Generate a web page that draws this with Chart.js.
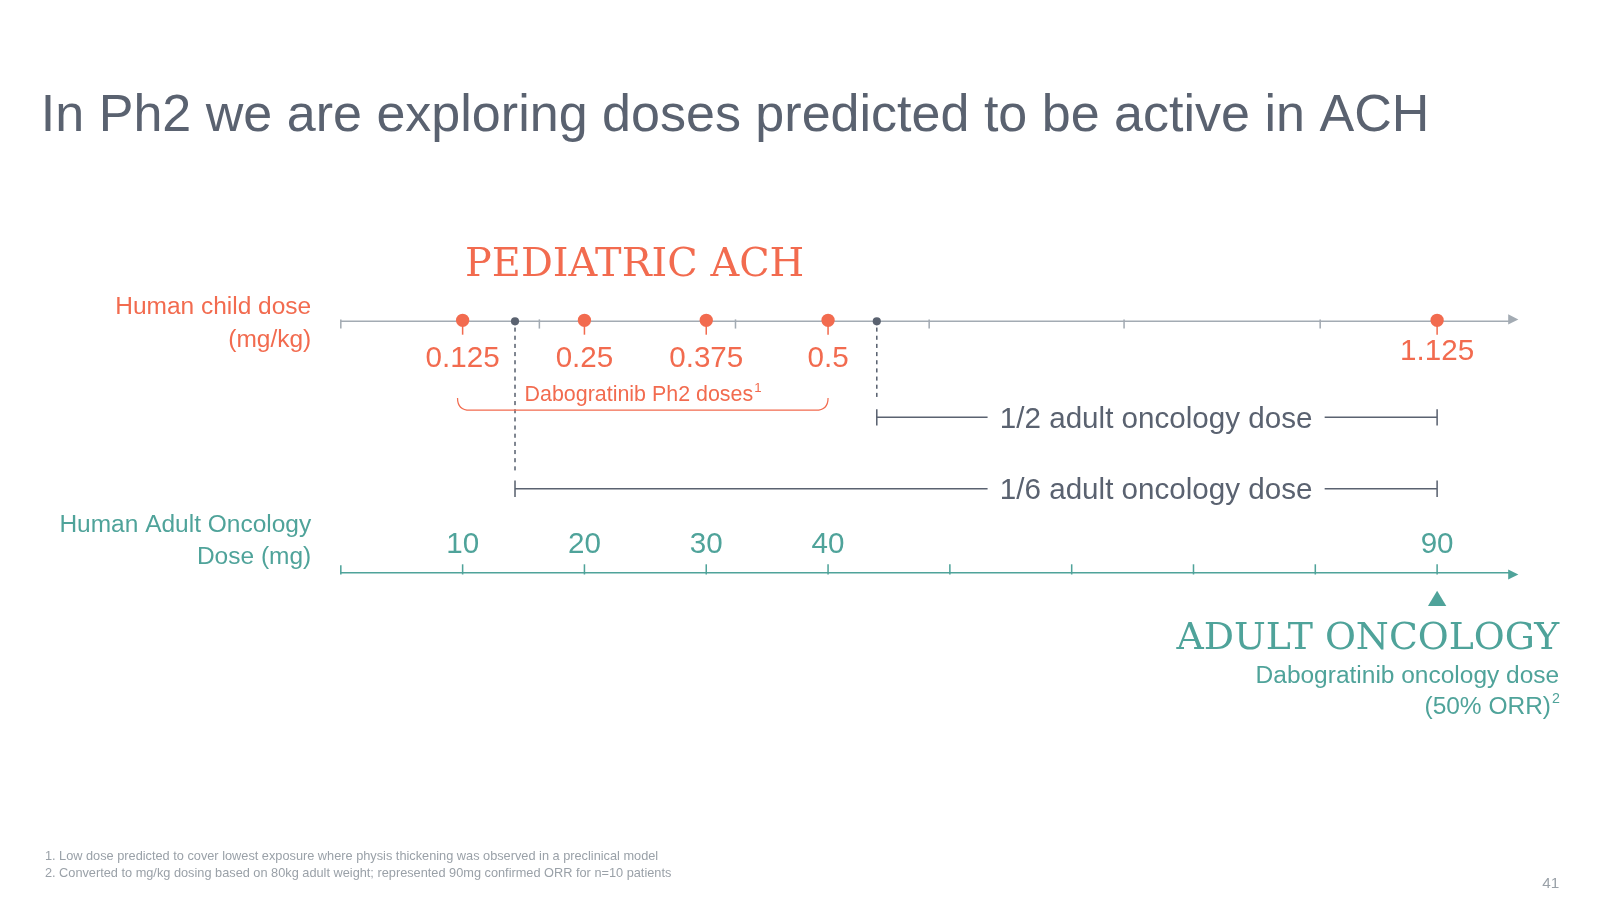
<!DOCTYPE html>
<html>
<head>
<meta charset="utf-8">
<script src="https://cdn.jsdelivr.net/npm/chart.js@4/dist/chart.umd.min.js"></script>
<style>html,body{margin:0;padding:0;background:#fff}</style>
</head>
<body>
<canvas id="c" width="1600" height="900"></canvas>
<script>
// doses: mg/kg child dose and matching adult mg dose
var childDoseLabels = ['0.125', '0.25', '0.375', '0.5', '1.125']
var childDoseMg = [10, 20, 30, 40, 90]
var adultTickLabels = ['10', '20', '30', '40', '90']
var adultTickMg = [10, 20, 30, 40, 90]
var thresholdMg = [14.3, 44]        // 1/6 and 1/2 adult oncology dose markers
var thresholdNames = ['1/6 adult oncology dose', '1/2 adult oncology dose']
var topMinorTicks = [0, 16.3, 32.4, 48.3, 64.3, 80.4]
var bottomMinorTicks = [10, 20, 30, 40, 50, 60, 70, 80, 90]
var axisMax = 96

var S = 1600 / 1568   // reference was read at reduced size
var ORANGE = '#f26b4f', TEAL = '#4fa39a', GREY = '#5a6270', LIGHT = '#a3abb3'
var TOPY = 313, BOTY = 563
var SANS = 'Arial, "Liberation Sans", sans-serif'

var textPlugin = {
    id: 'texts',
    afterDatasetsDraw: function (chart) {
        var ctx = chart.ctx, xs = chart.scales.x
        function px(v) { return xs.getPixelForValue(v) / S }
        function txt(s, x, y, font, color, align) {
            ctx.font = font; ctx.fillStyle = color; ctx.textAlign = align || 'left'
            ctx.textBaseline = 'alphabetic'; ctx.fillText(s, x, y)
        }
        ctx.save()
        ctx.scale(S, S)
        // axis arrows
        ctx.fillStyle = LIGHT
        ctx.beginPath(); ctx.moveTo(px(axisMax) + 8, TOPY); ctx.lineTo(px(axisMax) - 2, TOPY - 5); ctx.lineTo(px(axisMax) - 2, TOPY + 5); ctx.fill()
        ctx.fillStyle = TEAL
        ctx.beginPath(); ctx.moveTo(px(axisMax) + 8, BOTY); ctx.lineTo(px(axisMax) - 2, BOTY - 5); ctx.lineTo(px(axisMax) - 2, BOTY + 5); ctx.fill()
        // minor ticks
        ctx.lineWidth = 1.5
        ctx.strokeStyle = LIGHT
        topMinorTicks.forEach(function (v) { ctx.beginPath(); ctx.moveTo(px(v), TOPY); ctx.lineTo(px(v), TOPY + 9); ctx.stroke() })
        ctx.strokeStyle = TEAL
        ctx.beginPath(); ctx.moveTo(px(0), BOTY); ctx.lineTo(px(0), BOTY - 9); ctx.stroke()
        bottomMinorTicks.forEach(function (v) { ctx.beginPath(); ctx.moveTo(px(v), BOTY); ctx.lineTo(px(v), BOTY - 10); ctx.stroke() })
        ctx.strokeStyle = ORANGE
        childDoseMg.forEach(function (v) { ctx.beginPath(); ctx.moveTo(px(v), TOPY); ctx.lineTo(px(v), TOPY + 15); ctx.stroke() })
        // dashed verticals
        ctx.strokeStyle = GREY; ctx.setLineDash([4, 4])
        ctx.beginPath(); ctx.moveTo(px(thresholdMg[0]), TOPY); ctx.lineTo(px(thresholdMg[0]), 462); ctx.stroke()
        ctx.beginPath(); ctx.moveTo(px(thresholdMg[1]), TOPY); ctx.lineTo(px(thresholdMg[1]), 392); ctx.stroke()
        ctx.setLineDash([])
        // brackets
        var rows = [479, 409]
        ctx.font = '29px ' + SANS
        thresholdMg.forEach(function (v, i) {
            var y = rows[i], x0 = px(v), x1 = px(90), cx = 1133
            var w = ctx.measureText(thresholdNames[i]).width / 2 + 12
            ctx.strokeStyle = GREY; ctx.lineWidth = 1.5
            ctx.beginPath(); ctx.moveTo(x0, y); ctx.lineTo(cx - w, y); ctx.moveTo(cx + w, y); ctx.lineTo(x1, y)
            ctx.moveTo(x0, y - 8); ctx.lineTo(x0, y + 8); ctx.moveTo(x1, y - 8); ctx.lineTo(x1, y + 8); ctx.stroke()
            txt(thresholdNames[i], cx, y + 10, '29px ' + SANS, GREY, 'center')
        })
        // orange curly bracket
        var b0 = px(childDoseMg[0]) - 5, b1 = px(childDoseMg[3]), by = 402
        ctx.strokeStyle = ORANGE; ctx.lineWidth = 1.2
        ctx.beginPath(); ctx.moveTo(b0, by - 12); ctx.quadraticCurveTo(b0, by, b0 + 12, by)
        ctx.lineTo(b1 - 12, by); ctx.quadraticCurveTo(b1, by, b1, by - 12); ctx.stroke()
        txt('Dabogratinib Ph2 doses', 514, 393, '21px ' + SANS, ORANGE, 'left')
        ctx.font = '21px ' + SANS
        txt('1', 514 + ctx.measureText('Dabogratinib Ph2 doses').width + 1, 384, '13px ' + SANS, ORANGE, 'left')
        // dose labels
        childDoseLabels.forEach(function (s, i) {
            txt(s, px(childDoseMg[i]), i === 4 ? 353 : 360, '29px ' + SANS, ORANGE, 'center')
        })
        adultTickLabels.forEach(function (s, i) {
            txt(s, px(adultTickMg[i]), 542, '29px ' + SANS, TEAL, 'center')
        })
        // triangle
        ctx.fillStyle = TEAL
        ctx.beginPath(); ctx.moveTo(px(90), 579); ctx.lineTo(px(90) - 9, 594); ctx.lineTo(px(90) + 9, 594); ctx.fill()
        // titles and labels
        txt('In Ph2 we are exploring doses predicted to be active in ACH', 40, 128, '51px ' + SANS, GREY)
        txt('PEDIATRIC ACH', 622, 270, '39px "DejaVu Serif", serif', ORANGE, 'center')
        txt('Human child dose', 305, 308, '24px ' + SANS, ORANGE, 'right')
        txt('(mg/kg)', 305, 340, '24px ' + SANS, ORANGE, 'right')
        txt('Human Adult Oncology', 305, 521, '24px ' + SANS, TEAL, 'right')
        txt('Dose (mg)', 305, 553, '24px ' + SANS, TEAL, 'right')
        txt('ADULT ONCOLOGY', 1528, 636, '37px "DejaVu Serif", serif', TEAL, 'right')
        txt('Dabogratinib oncology dose', 1528, 669, '24px ' + SANS, TEAL, 'right')
        txt('(50% ORR)', 1520, 700, '24px ' + SANS, TEAL, 'right')
        txt('2', 1521, 689, '14px ' + SANS, TEAL, 'left')
        txt('1. Low dose predicted to cover lowest exposure where physis thickening was observed in a preclinical model', 44, 843, '12.5px ' + SANS, '#9aa1a8')
        txt('2. Converted to mg/kg dosing based on 80kg adult weight; represented 90mg confirmed ORR for n=10 patients', 44, 859, '12.5px ' + SANS, '#9aa1a8')
        txt('41', 1528, 870, '15px ' + SANS, '#9aa1a8', 'right')
        ctx.restore()
    }
}

new Chart(document.getElementById('c').getContext('2d'), {
    type: 'scatter',
    data: {
        datasets: [
            { data: childDoseMg.map(function (v) { return { x: v, y: TOPY - 1 } }), backgroundColor: ORANGE, pointRadius: 6.5 * S, pointBorderWidth: 0 },
            { data: thresholdMg.map(function (v) { return { x: v, y: TOPY } }), backgroundColor: GREY, pointRadius: 4 * S, pointBorderWidth: 0 },
            { data: [{ x: 0, y: TOPY }, { x: axisMax, y: TOPY }], showLine: true, borderColor: LIGHT, borderWidth: 1.5 * S, pointRadius: 0, order: 5 },
            { data: [{ x: 0, y: BOTY }, { x: axisMax, y: BOTY }], showLine: true, borderColor: TEAL, borderWidth: 1.5 * S, pointRadius: 0, order: 5 }
        ]
    },
    options: {
        responsive: false,
        animation: false,
        layout: { padding: { left: 334 * S, right: 1600 - 1480 * S, top: 0, bottom: 0 } },
        plugins: { legend: { display: false }, tooltip: { enabled: false } },
        scales: {
            x: { type: 'linear', min: 0, max: axisMax, display: false },
            y: { type: 'linear', min: 0, max: 900 / S, reverse: true, display: false }
        }
    },
    plugins: [textPlugin]
})
</script>
</body>
</html>
